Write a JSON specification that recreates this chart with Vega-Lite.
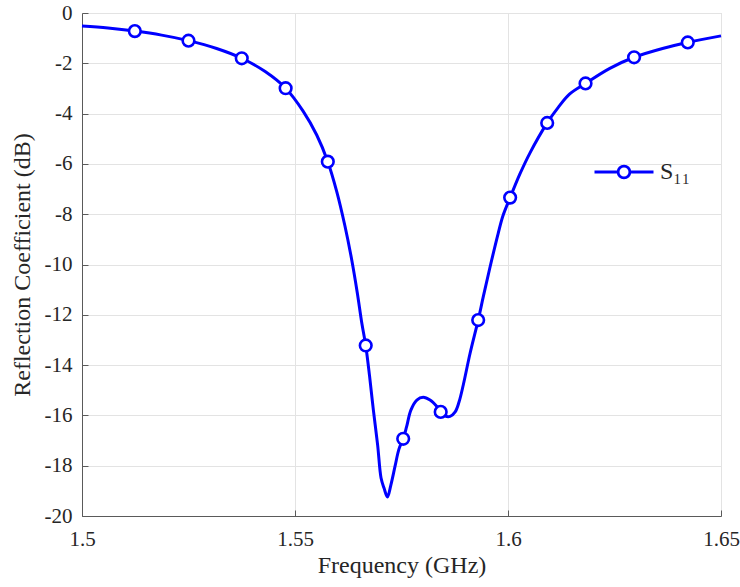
{
  "$schema": "https://vega.github.io/schema/vega-lite/v6.json",
  "width": 639,
  "height": 503,
  "autosize": "none",
  "padding": {"left": 82, "top": 13, "right": 19, "bottom": 71},
  "background": "white",
  "config": {
    "font": "Liberation Serif",
    "view": {"stroke": "#d4d4d4", "strokeWidth": 1},
    "axis": {
      "domainColor": "#5a5a5a",
      "tickColor": "#5a5a5a",
      "gridColor": "#e3e3e3",
      "gridWidth": 1,
      "labelColor": "#262626",
      "titleColor": "#262626",
      "labelFont": "Liberation Serif",
      "titleFont": "Liberation Serif",
      "labelFontSize": 21,
      "titleFontSize": 24,
      "titleFontWeight": "normal"
    }
  },
  "datasets": {
    "curve": [
      {"f": 1.5, "db": -0.52},
      {"f": 1.5061, "db": -0.6},
      {"f": 1.5124, "db": -0.72},
      {"f": 1.5187, "db": -0.88},
      {"f": 1.525, "db": -1.1},
      {"f": 1.5316, "db": -1.41},
      {"f": 1.5375, "db": -1.8},
      {"f": 1.543, "db": -2.33},
      {"f": 1.5478, "db": -2.99},
      {"f": 1.5519, "db": -3.9},
      {"f": 1.5551, "db": -4.85},
      {"f": 1.5577, "db": -5.91},
      {"f": 1.5598, "db": -7.1},
      {"f": 1.5617, "db": -8.45},
      {"f": 1.5633, "db": -9.8},
      {"f": 1.5646, "db": -11.1},
      {"f": 1.5657, "db": -12.35},
      {"f": 1.5666, "db": -13.22},
      {"f": 1.5675, "db": -14.43},
      {"f": 1.5684, "db": -15.79},
      {"f": 1.5694, "db": -17.18},
      {"f": 1.5702, "db": -18.49},
      {"f": 1.5709, "db": -18.89},
      {"f": 1.5717, "db": -19.24},
      {"f": 1.5725, "db": -18.77},
      {"f": 1.5735, "db": -18.01},
      {"f": 1.5744, "db": -17.34},
      {"f": 1.5754, "db": -16.93},
      {"f": 1.5762, "db": -16.45},
      {"f": 1.5772, "db": -15.79},
      {"f": 1.5786, "db": -15.39},
      {"f": 1.5801, "db": -15.28},
      {"f": 1.5817, "db": -15.39},
      {"f": 1.5833, "db": -15.65},
      {"f": 1.5842, "db": -15.86},
      {"f": 1.5852, "db": -16.02},
      {"f": 1.5864, "db": -16.04},
      {"f": 1.5876, "db": -15.86},
      {"f": 1.5885, "db": -15.47},
      {"f": 1.5895, "db": -14.79},
      {"f": 1.5911, "db": -13.53},
      {"f": 1.593, "db": -12.21},
      {"f": 1.5942, "db": -11.28},
      {"f": 1.5958, "db": -10.09},
      {"f": 1.5977, "db": -8.76},
      {"f": 1.5988, "db": -8.07},
      {"f": 1.6005, "db": -7.34},
      {"f": 1.6028, "db": -6.4},
      {"f": 1.6052, "db": -5.55},
      {"f": 1.6092, "db": -4.37},
      {"f": 1.6118, "db": -3.75},
      {"f": 1.6145, "db": -3.22},
      {"f": 1.6182, "db": -2.8},
      {"f": 1.6239, "db": -2.2},
      {"f": 1.6296, "db": -1.76},
      {"f": 1.6365, "db": -1.4},
      {"f": 1.6422, "db": -1.17},
      {"f": 1.65, "db": -0.91}
    ],
    "markers": [
      {"f": 1.5124, "db": -0.72, "series": "S₁₁"},
      {"f": 1.525, "db": -1.1, "series": "S₁₁"},
      {"f": 1.5375, "db": -1.8, "series": "S₁₁"},
      {"f": 1.5478, "db": -2.99, "series": "S₁₁"},
      {"f": 1.5577, "db": -5.91, "series": "S₁₁"},
      {"f": 1.5666, "db": -13.22, "series": "S₁₁"},
      {"f": 1.5754, "db": -16.93, "series": "S₁₁"},
      {"f": 1.5842, "db": -15.86, "series": "S₁₁"},
      {"f": 1.593, "db": -12.21, "series": "S₁₁"},
      {"f": 1.6005, "db": -7.34, "series": "S₁₁"},
      {"f": 1.6092, "db": -4.37, "series": "S₁₁"},
      {"f": 1.6182, "db": -2.8, "series": "S₁₁"},
      {"f": 1.6296, "db": -1.76, "series": "S₁₁"},
      {"f": 1.6422, "db": -1.17, "series": "S₁₁"}
    ]
  },
  "encoding": {
    "x": {
      "field": "f",
      "type": "quantitative",
      "scale": {"domain": [1.5, 1.65], "nice": false, "zero": false},
      "axis": {
        "title": "Frequency (GHz)",
        "values": [1.5, 1.55, 1.6, 1.65],
        "labelExpr": "toString(datum.value)",
        "tickSize": -6,
        "labelPadding": 18,
        "titlePadding": 4,
        "labelFlush": false
      }
    },
    "y": {
      "field": "db",
      "type": "quantitative",
      "scale": {"domain": [-20, 0], "nice": false, "zero": false},
      "axis": {
        "title": "Reflection Coefficient (dB)",
        "values": [-20, -18, -16, -14, -12, -10, -8, -6, -4, -2, 0],
        "labelExpr": "toString(datum.value)",
        "tickSize": -6,
        "labelPadding": 16,
        "titlePadding": 10
      }
    }
  },
  "layer": [
    {
      "data": {"name": "curve"},
      "mark": {"type": "line", "color": "#0000ff", "strokeWidth": 3, "interpolate": "catmull-rom"}
    },
    {
      "data": {"name": "markers"},
      "mark": {"type": "point", "shape": "circle", "filled": true, "fill": "white", "strokeWidth": 2.6, "size": 135, "opacity": 1},
      "encoding": {
        "stroke": {
          "field": "series",
          "type": "nominal",
          "scale": {"range": ["#0000ff"]},
          "legend": {
            "title": null,
            "orient": "none",
            "legendX": 511,
            "legendY": 128,
            "padding": 0,
            "symbolType": "M-1,0H-0.2M0.2,0H1M0.2,0A0.2,0.2 0 1,1 -0.2,0A0.2,0.2 0 1,1 0.2,0Z",
            "symbolSize": 3481,
            "symbolStrokeWidth": 2.8,
            "symbolFillColor": "white",
            "symbolStrokeColor": "#0000ff",
            "labelFont": "Liberation Serif",
            "labelFontSize": 24,
            "labelColor": "#262626",
            "labelOffset": 5,
            "labelBaseline": "middle"
          }
        }
      }
    }
  ]
}
